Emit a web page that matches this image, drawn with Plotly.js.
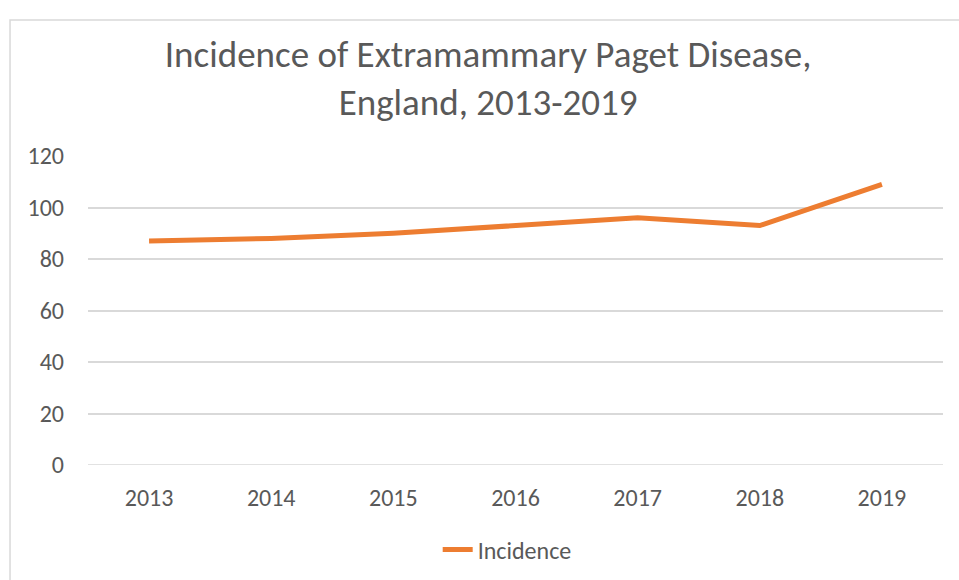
<!DOCTYPE html>
<html>
<head>
<meta charset="utf-8">
<script src="https://cdn.plot.ly/plotly-3.0.1.min.js"></script>
<style>
html,body{margin:0;padding:0;background:#fff;}
#chart{width:959px;height:580px;}
</style>
</head>
<body>
<div id="chart"></div>
<script>
const years = ['2013','2014','2015','2016','2017','2018','2019'];
const incidence = [87, 88, 90, 93, 96, 93, 109];
const yTicks = [0, 20, 40, 60, 80, 100, 120];
const seriesName = 'Incidence';
const titleText = 'Incidence of Extramammary Paget Disease,<br>England, 2013-2019';

const FONT = 'Calibri, Carlito, "Open Sans", sans-serif';
const GRAY = '#595959';

Plotly.newPlot('chart', [{
  x: years,
  y: incidence,
  type: 'scatter',
  mode: 'lines',
  name: seriesName,
  line: {color: '#ED7D31', width: 5}
}], {
  width: 959, height: 580,
  margin: {l: 88, r: 16, t: 156, b: 115},
  paper_bgcolor: '#fff', plot_bgcolor: '#fff',
  font: {family: FONT, color: GRAY},
  title: {
    text: titleText,
    font: {family: FONT, size: 37, color: GRAY},
    x: 0.509, xanchor: 'center', y: 0.885, yanchor: 'middle'
  },
  xaxis: {
    type: 'category',
    range: [-0.5, 6.5],
    showgrid: false, zeroline: false, showline: false,
    ticks: '', ticklabelstandoff: 16,
    tickfont: {family: FONT, size: 24, color: GRAY}
  },
  yaxis: {
    range: [0, 120],
    tickvals: yTicks,
    showgrid: true, gridcolor: '#d9d9d9', gridwidth: 1.5,
    zeroline: false, showline: false,
    ticks: '', ticklabelstandoff: 23,
    tickfont: {family: FONT, size: 24, color: GRAY}
  },
  shapes: [{
    type: 'line', xref: 'paper', yref: 'y',
    x0: 0, x1: 1, y0: 0, y1: 0,
    line: {color: '#d9d9d9', width: 1.5}
  }, {
    type: 'rect', xref: 'paper', yref: 'paper',
    x0: -0.0912, x1: 1.2, y0: -0.6, y1: 1.44,
    line: {color: '#d9d9d9', width: 1.5}
  }],
  showlegend: true,
  legend: {
    orientation: 'h',
    x: 0.409, xanchor: 'left',
    yref: 'container',
    y: 0.052, yanchor: 'middle',
    font: {family: FONT, size: 24, color: GRAY},
    itemwidth: 30
  }
}, {displayModeBar: false});
</script>
</body>
</html>
